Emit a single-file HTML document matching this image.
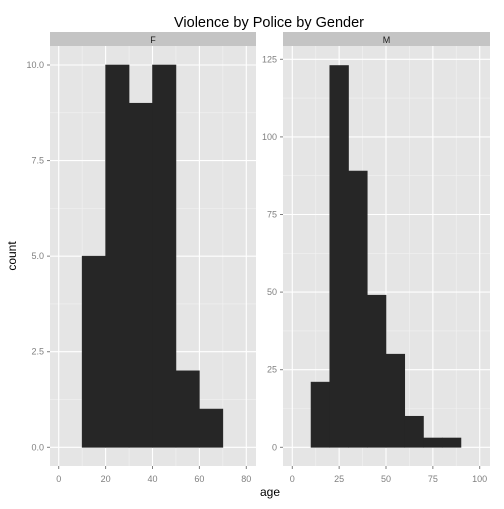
<!DOCTYPE html>
<html><head><meta charset="utf-8"><style>
body{margin:0;background:#fff;font-family:"Liberation Sans",sans-serif}
</style></head><body>
<svg id="c" width="504" height="504" xmlns="http://www.w3.org/2000/svg" font-family="Liberation Sans, sans-serif"></svg>
<script>
const binStarts=[10,20,30,40,50,60,70,80];
const countsF=[5,10,9,10,2,1];
const countsM=[21,123,89,49,30,10,3,3];
const xTicksF=[0,20,40,60,80];
const yTicksF=[0,2.5,5,7.5,10];
const yLabelsF=["0.0","2.5","5.0","7.5","10.0"];
const xTicksM=[0,25,50,75,100];
const yTicksM=[0,25,50,75,100,125];
const binWidth=10;
const svg=document.getElementById('c');
const NS="http://www.w3.org/2000/svg";
function mk(t,a,p){const e=document.createElementNS(NS,t);for(const k in a)e.setAttribute(k,a[k]);(p||svg).appendChild(e);return e;}
function panel(o){
  const g=mk('g',{});
  
  
  const X=v=>o.x0+(v-o.xmin)*(o.x1-o.x0)/(o.xmax-o.xmin);
  const Y=v=>o.y0+(v-o.ymin)*(o.y1-o.y0)/(o.ymax-o.ymin);
  const bg=mk('rect',{x:o.L,y:46,width:o.R-o.L,height:420,fill:'#e5e5e5'},g);
  
  
  const xs=o.xt, ys=o.yt;
  for(let i=0;i<xs.length-1;i++){const v=(xs[i]+xs[i+1])/2;mk('line',{x1:X(v),x2:X(v),y1:46,y2:466,stroke:'#f2f2f2','stroke-width':0.6},g);}
  for(let i=0;i<ys.length-1;i++){const v=(ys[i]+ys[i+1])/2;mk('line',{y1:Y(v),y2:Y(v),x1:o.L,x2:o.R,stroke:'#f2f2f2','stroke-width':0.6},g);}
  xs.forEach(v=>{mk('line',{x1:X(v),x2:X(v),y1:46,y2:466,stroke:'#fff','stroke-width':1.1},g);
    const t=mk('text',{x:X(v),y:482,'text-anchor':'middle','font-size':9,fill:'#7f7f7f'},g);t.textContent=v;
    mk('line',{x1:X(v),x2:X(v),y1:466,y2:469,stroke:'#7f7f7f'},g);});
  ys.forEach((v,i)=>{mk('line',{y1:Y(v),y2:Y(v),x1:o.L,x2:o.R,stroke:'#fff','stroke-width':1.1},g);
    const t=mk('text',{x:o.L-6,y:Y(v)+3,'text-anchor':'end','font-size':9,fill:'#7f7f7f'},g);t.textContent=o.yl[i];
    mk('line',{y1:Y(v),y2:Y(v),x1:o.L-3,x2:o.L,stroke:'#7f7f7f'},g);});
  o.counts.forEach((c,i)=>{const b=binStarts[i];
    const r=mk('rect',{x:X(b),y:Y(c),width:X(b+binWidth)-X(b),height:Y(0)-Y(c),fill:'#262626',stroke:'#262626','stroke-width':0.6},g);
    
    });
  const s=mk('rect',{x:o.L,y:32,width:o.R-o.L,height:14,fill:'#c4c4c4'},g);
  
  
  const st=mk('text',{x:(o.L+o.R)/2,y:43,'text-anchor':'middle','font-size':9,fill:'#1a1a1a'},g);st.textContent=o.id;
}
panel({id:'F',L:50,R:256,x0:58.7,x1:246.3,xmin:0,xmax:80,y0:447.3,y1:65,ymin:0,ymax:10,counts:countsF,xt:xTicksF,yt:yTicksF,yl:yLabelsF});
panel({id:'M',L:283,R:490,x0:292.3,x1:479.7,xmin:0,xmax:100,y0:447.3,y1:59.3,ymin:0,ymax:125,counts:countsM,xt:xTicksM,yt:yTicksM,yl:yTicksM.map(String)});
let t=mk('text',{x:269,y:27,'text-anchor':'middle','font-size':14.5,fill:'#000'});t.textContent='Violence by Police by Gender';


t=mk('text',{x:270,y:496,'text-anchor':'middle','font-size':12,fill:'#000'});t.textContent='age';


t=mk('text',{x:0,y:0,'text-anchor':'middle','font-size':12,fill:'#000',transform:'translate(16,256) rotate(-90)'});t.textContent='count';


</script>
</body></html>
